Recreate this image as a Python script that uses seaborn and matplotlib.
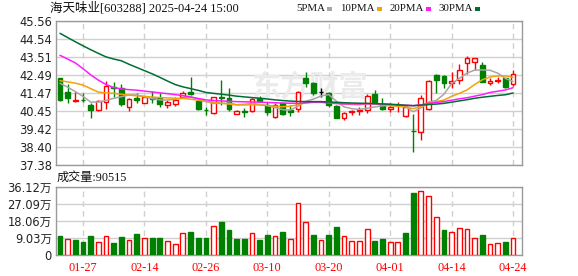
import matplotlib
matplotlib.use("Agg")
import matplotlib.pyplot as plt
from matplotlib.patches import Rectangle
import seaborn as sns
import numpy as np
import pandas as pd

# ---------------- data ----------------
title = "海天味业[603288] 2025-04-24 15:00"
vol_title = "成交量:90515"

dates = ["01-22", "01-23", "01-24", "01-27",
         "02-05", "02-06", "02-07", "02-10", "02-11", "02-12", "02-13", "02-14",
         "02-17", "02-18", "02-19", "02-20", "02-21",
         "02-24", "02-25", "02-26", "02-27", "02-28",
         "03-03", "03-04", "03-05", "03-06", "03-07",
         "03-10", "03-11", "03-12", "03-13", "03-14",
         "03-17", "03-18", "03-19", "03-20", "03-21",
         "03-24", "03-25", "03-26", "03-27", "03-28", "03-31",
         "04-01", "04-02", "04-03",
         "04-07", "04-08", "04-09", "04-10", "04-11",
         "04-14", "04-15", "04-16", "04-17", "04-18",
         "04-21", "04-22", "04-23", "04-24"]

open_ = [42.30, 41.51, 41.02, 41.09, 40.79, 40.50, 40.94, 41.83, 41.77, 40.66,
         41.17, 40.92, 41.20, 41.17, 40.79, 40.85, 41.23, 41.54, 41.03, 40.52,
         40.32, 41.26, 41.17, 40.28, 40.43, 40.45, 41.17, 40.79, 40.12, 40.88,
         40.50, 40.55, 42.34, 42.06, 41.50, 41.45, 40.73, 40.07, 40.39, 40.47,
         40.50, 41.40, 40.79, 40.56, 40.77, 40.18, 39.33, 39.23, 40.54, 42.49,
         42.44, 42.02, 42.21, 43.16, 43.25, 43.06, 42.02, 42.15, 42.30, 41.96]
high = [42.35, 41.98, 41.55, 41.47, 40.92, 41.07, 42.17, 42.08, 41.98, 41.20,
        41.45, 41.28, 41.60, 41.49, 41.07, 41.26, 41.60, 42.40, 41.05, 40.66,
        41.26, 42.21, 41.74, 40.50, 40.60, 41.20, 41.32, 40.98, 40.88, 40.90,
        40.79, 41.60, 42.68, 42.11, 41.74, 41.54, 40.79, 40.41, 40.50, 40.69,
        41.40, 41.64, 41.17, 40.88, 40.98, 40.79, 40.28, 41.36, 42.21, 42.55,
        42.49, 42.68, 43.12, 43.57, 43.46, 43.25, 42.30, 42.40, 42.34, 42.77]
low = [41.00, 40.92, 40.98, 40.98, 40.03, 40.45, 40.56, 41.26, 40.73, 40.45,
       40.89, 40.89, 40.89, 40.69, 40.60, 40.73, 41.17, 41.36, 40.50, 40.22,
       40.28, 40.79, 40.47, 40.26, 40.12, 40.37, 40.94, 40.22, 40.07, 40.22,
       40.16, 40.41, 41.83, 41.36, 41.26, 40.69, 40.03, 39.94, 40.22, 40.22,
       40.32, 40.88, 40.50, 40.41, 40.41, 40.12, 38.10, 38.80, 40.50, 41.45,
       41.74, 41.74, 41.96, 42.55, 42.77, 42.11, 41.90, 42.02, 41.74, 41.87]
close = [41.06, 41.20, 41.07, 41.05, 40.50, 41.00, 41.87, 41.74, 40.85, 41.11,
         41.07, 41.26, 41.13, 40.85, 40.98, 41.07, 41.45, 41.43, 40.54, 40.49,
         41.23, 41.17, 40.54, 40.45, 40.40, 41.11, 41.03, 40.37, 40.79, 40.26,
         40.41, 41.55, 42.06, 41.49, 41.50, 40.79, 40.07, 40.35, 40.43, 40.52,
         41.32, 40.98, 40.56, 40.69, 40.81, 40.69, 39.29, 41.17, 42.17, 42.21,
         42.06, 42.15, 42.77, 43.44, 43.46, 42.12, 42.16, 42.19, 41.83, 42.53]
prev_close = 42.40  # close of the session before the first bar

# volume in 万 (10k lots)
volume_wan = [10.1, 8.5, 8.0, 6.9, 10.1, 6.7, 9.9, 6.4, 9.6, 8.0,
              11.2, 8.9, 9.0, 9.0, 7.3, 5.7, 11.5, 12.2, 9.0, 9.0,
              15.2, 17.5, 13.3, 8.5, 8.5, 11.5, 8.0, 10.6, 9.9, 12.2,
              8.5, 27.4, 17.3, 10.6, 8.0, 10.6, 14.9, 9.9, 7.3, 7.3,
              13.6, 7.4, 8.5, 6.7, 6.7, 11.7, 32.9, 34.0, 31.2, 20.0,
              13.3, 12.0, 14.2, 13.8, 9.0, 10.6, 5.7, 6.2, 6.9, 9.05]

ma5 = [42.02, 41.80, 41.55, 41.28, 40.95, 40.96, 41.05, 41.17, 41.26, 41.36,
       41.36, 41.25, 41.15, 41.08, 41.07, 41.12, 41.17, 41.24, 41.12, 40.98,
       40.88, 40.88, 40.90, 40.80, 40.83, 40.88, 40.82, 40.76, 40.65, 40.52,
       40.50, 40.72, 41.00, 41.12, 41.30, 41.38, 41.00, 40.68, 40.58, 40.54,
       40.60, 40.68, 40.74, 40.78, 40.82, 40.70, 40.41, 40.62, 40.95, 41.05,
       41.40, 42.00, 42.30, 42.60, 42.77, 42.78, 42.76, 42.60, 42.30, 42.12]
ma10 = [42.17, 42.10, 42.03, 41.92, 41.72, 41.52, 41.48, 41.45, 41.40, 41.35,
        41.31, 41.28, 41.24, 41.21, 41.19, 41.17, 41.16, 41.12, 41.06, 40.99,
        40.95, 40.89, 40.84, 40.80, 40.79, 40.80, 40.79, 40.76, 40.72, 40.69,
        40.72, 40.80, 40.92, 40.96, 40.98, 40.95, 40.90, 40.85, 40.82, 40.80,
        40.87, 40.85, 40.79, 40.75, 40.71, 40.68, 40.58, 40.70, 40.90, 40.98,
        41.07, 41.28, 41.45, 41.64, 41.95, 42.22, 42.38, 42.44, 42.44, 42.36]
ma20 = [43.61, 43.40, 43.18, 42.85, 42.50, 42.20, 41.95, 41.78, 41.70, 41.66,
        41.63, 41.58, 41.53, 41.48, 41.43, 41.38, 41.32, 41.25, 41.16, 41.08,
        41.04, 41.02, 41.00, 40.98, 40.97, 40.96, 40.95, 40.93, 40.92, 40.90,
        40.89, 40.88, 40.91, 40.94, 40.94, 40.90, 40.87, 40.85, 40.85, 40.85,
        40.86, 40.85, 40.84, 40.82, 40.80, 40.78, 40.75, 40.80, 40.88, 40.93,
        40.98, 41.06, 41.14, 41.20, 41.29, 41.38, 41.50, 41.57, 41.64, 41.77]
ma30 = [44.86, 44.62, 44.38, 44.15, 43.93, 43.72, 43.52, 43.40, 43.30, 43.10,
        42.92, 42.74, 42.56, 42.36, 42.15, 41.95, 41.82, 41.72, 41.62, 41.50,
        41.45, 41.40, 41.35, 41.29, 41.25, 41.21, 41.17, 41.13, 41.08, 41.04,
        41.01, 40.99, 40.98, 40.98, 40.98, 40.96, 40.94, 40.92, 40.90, 40.89,
        40.88, 40.87, 40.85, 40.83, 40.80, 40.77, 40.75, 40.78, 40.81, 40.84,
        40.88, 40.95, 41.02, 41.09, 41.17, 41.23, 41.28, 41.33, 41.37, 41.47]

price_ticks = [37.38, 38.40, 39.42, 40.45, 41.47, 42.49, 43.51, 44.54, 45.56]
vol_ticks = [0, 9.03, 18.06, 27.09, 36.12]
vol_tick_labels = ["0", "9.03万", "18.06万", "27.09万", "36.12万"]
label_dates = ["01-27", "02-14", "02-26", "03-10", "03-20", "04-01", "04-14", "04-24"]

ma_names = ["5PMA", "10PMA", "20PMA", "30PMA"]
ma_colors = ["#a6a6a6", "#f0a30a", "#ff1cff", "#006e32"]

# ---------------- style ----------------
sns.set_theme(style="white")
plt.rcParams["font.family"] = ["DejaVu Sans", "Noto Sans CJK SC"]

RED = "#ff0000"
GREEN = "#008000"
GRID = "#d0d0d0"
SPINE = "#9a9a9a"
TXT = "#222222"

df = pd.DataFrame({"date": dates, "open": open_, "high": high, "low": low,
                   "close": close, "vol": volume_wan,
                   "ma5": ma5, "ma10": ma10, "ma20": ma20, "ma30": ma30})
df["x"] = np.arange(len(df))

W, H = 578, 276
fig = plt.figure(figsize=(W / 100, H / 100), dpi=100)
fig.patch.set_facecolor("white")
ax = fig.add_axes([56 / W, 1 - 165 / H, 466 / W, 144 / H])
axv = fig.add_axes([56 / W, 1 - 255 / H, 466 / W, 68 / H])

xlim = (-0.52, len(df) - 1 + 1.17)
tick_pos = [dates.index(d) for d in label_dates]

# ---------------- candles ----------------
cand_col = np.where(df["close"] > df["open"], RED,
                    np.where(df["close"] < df["open"], GREEN, "#000000"))
face_col = np.where(df["close"] < df["open"], GREEN, "white")
ax.vlines(df["x"], df["low"], df["high"], colors=cand_col, linewidth=1, zorder=3)
body_bot = np.minimum(df["open"], df["close"])
body_h = np.abs(df["close"] - df["open"])
ax.bar(df["x"], body_h, bottom=body_bot, width=0.62, color=face_col,
       edgecolor=cand_col, linewidth=1, zorder=4)

for col, c in zip(["ma5", "ma10", "ma20", "ma30"], ma_colors):
    sns.lineplot(data=df, x="x", y=col, ax=ax, color=c, linewidth=1.1,
                 legend=False, zorder=5)

ax.text(0.545, 0.545, "东方财富", transform=ax.transAxes, ha="center", va="center",
        fontsize=21, color="#ebebeb", family=["Noto Sans CJK SC"], zorder=1,
        fontweight="bold")

ax.set_xlim(*xlim)
ax.set_ylim(price_ticks[0], price_ticks[-1])
ax.set_yticks(price_ticks)
ax.set_yticklabels([f"{v:.2f}" for v in price_ticks])
ax.set_xticks(tick_pos)
ax.set_xticklabels([])
ax.set_xlabel("")
ax.set_ylabel("")
ax.grid(axis="y", color=GRID, linewidth=1, linestyle="-", zorder=0)
ax.grid(axis="x", color=GRID, linewidth=1, linestyle=(0, (4, 3)), zorder=0)
ax.set_axisbelow(True)
ax.tick_params(axis="both", length=0, labelsize=8.3, colors=TXT, pad=3)

# ---------------- volume ----------------
prev = np.concatenate([[prev_close], df["close"].values[:-1]])
up = df["close"].values >= prev
v_edge = np.where(up, RED, GREEN)
v_face = np.where(up, "white", GREEN)
axv.bar(df["x"], df["vol"], width=0.62, color=v_face, edgecolor=v_edge,
        linewidth=1, zorder=3)
axv.set_xlim(*xlim)
axv.set_ylim(vol_ticks[0], vol_ticks[-1])
axv.set_yticks(vol_ticks)
axv.set_yticklabels(vol_tick_labels)
axv.set_xticks(tick_pos)
axv.set_xticklabels(label_dates, color=RED, fontsize=8.8, family=["Liberation Serif"])
axv.set_xlabel("")
axv.set_ylabel("")
axv.grid(axis="y", color=GRID, linewidth=1, linestyle="-", zorder=0)
axv.grid(axis="x", color=GRID, linewidth=1, linestyle=(0, (4, 3)), zorder=0)
axv.set_axisbelow(True)
axv.tick_params(axis="y", length=0, labelsize=8.3, colors=TXT, pad=3)
axv.tick_params(axis="x", length=0, pad=5)

for a in (ax, axv):
    for s in a.spines.values():
        s.set_color(SPINE)
        s.set_linewidth(1)
        s.set_visible(True)

# ---------------- texts ----------------
fig.text(50 / W, 1 - 8.5 / H, title, ha="left", va="center", fontsize=9,
         color="#111111", family=["Liberation Serif", "Noto Sans CJK SC"])
fig.text(57 / W, 1 - 178 / H, vol_title, ha="left", va="center", fontsize=8.7,
         color="#111111", family=["Liberation Serif", "Noto Sans CJK SC"])

# legend laid out left to right, each label followed by its colour square
renderer = fig.canvas.get_renderer()
cur = 296.0
for name, c in zip(ma_names, ma_colors):
    t = fig.text(cur / W, 1 - 8.5 / H, name, ha="left", va="center",
                 fontsize=7.8, color="#111111", family=["Liberation Serif"])
    tw = t.get_window_extent(renderer=renderer).width
    sx = cur + tw + 2
    fig.add_artist(Rectangle((sx / W, 1 - 10.5 / H), 5 / W, 3.5 / H,
                             transform=fig.transFigure, facecolor=c,
                             edgecolor="none"))
    cur = sx + 5 + 8

fig.savefig("out.png", dpi=100, facecolor="white")
